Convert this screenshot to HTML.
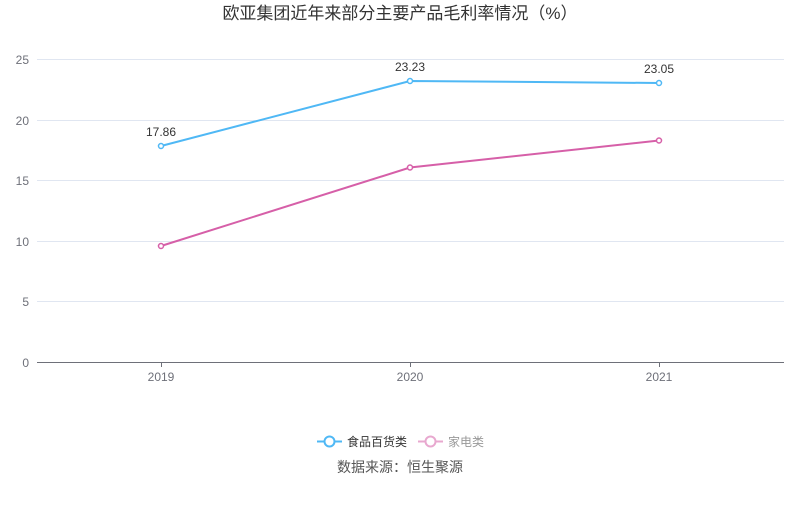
<!DOCTYPE html>
<html><head><meta charset="utf-8"><style>
body{margin:0;background:#fff;}
svg text{font-family:"Liberation Sans","Noto Sans CJK SC",sans-serif;}
</style></head><body>
<svg width="800" height="501" viewBox="0 0 800 501" xmlns="http://www.w3.org/2000/svg">
<text x="400" y="19" text-anchor="middle" font-size="17" fill="#333">欧亚集团近年来部分主要产品毛利率情况（%）</text>
<g stroke="#e0e6f1" stroke-width="1">
<line x1="37" y1="59.5" x2="784" y2="59.5"/>
<line x1="37" y1="120.5" x2="784" y2="120.5"/>
<line x1="37" y1="180.5" x2="784" y2="180.5"/>
<line x1="37" y1="241.5" x2="784" y2="241.5"/>
<line x1="37" y1="301.5" x2="784" y2="301.5"/>
</g>
<line x1="37" y1="362.5" x2="784" y2="362.5" stroke="#6e7079"/>
<g stroke="#6e7079"><line x1="161.5" y1="362" x2="161.5" y2="367"/><line x1="410.5" y1="362" x2="410.5" y2="367"/><line x1="659.5" y1="362" x2="659.5" y2="367"/></g>
<g font-size="12" fill="#6e7079" text-anchor="end">
<text x="29" y="64">25</text><text x="29" y="125">20</text><text x="29" y="185">15</text><text x="29" y="246">10</text><text x="29" y="306">5</text><text x="29" y="367">0</text>
</g>
<g font-size="12" fill="#6e7079" text-anchor="middle">
<text x="161" y="381">2019</text><text x="410" y="381">2020</text><text x="659" y="381">2021</text>
</g>
<polyline points="161,146 410,81 659,83" fill="none" stroke="#4fb8f5" stroke-width="2"/>
<polyline points="161,246 410,167.5 659,140.5" fill="none" stroke="#d65fa8" stroke-width="2"/>
<g fill="#fff" stroke="#4fb8f5" stroke-width="1.5"><circle cx="161" cy="146" r="2.5"/><circle cx="410" cy="81" r="2.5"/><circle cx="659" cy="83" r="2.5"/></g>
<g fill="#fff" stroke="#d65fa8" stroke-width="1.5"><circle cx="161" cy="246" r="2.5"/><circle cx="410" cy="167.5" r="2.5"/><circle cx="659" cy="140.5" r="2.5"/></g>
<g font-size="12" fill="#333" text-anchor="middle">
<text x="161" y="136">17.86</text><text x="410" y="71">23.23</text><text x="659" y="73">23.05</text>
</g>
<line x1="317" y1="441.5" x2="342" y2="441.5" stroke="#4fb8f5" stroke-width="2"/>
<circle cx="329.5" cy="441.5" r="5" fill="#fff" stroke="#4fb8f5" stroke-width="2"/>
<text x="347" y="446" font-size="12" fill="#333">食品百货类</text>
<line x1="418" y1="441.5" x2="443" y2="441.5" stroke="#e8a8cf" stroke-width="2"/>
<circle cx="430.5" cy="441.5" r="5" fill="#fff" stroke="#e8a8cf" stroke-width="2"/>
<text x="448" y="446" font-size="12" fill="#999">家电类</text>
<text x="400" y="472" text-anchor="middle" font-size="14" fill="#555">数据来源：恒生聚源</text>
</svg>
</body></html>
